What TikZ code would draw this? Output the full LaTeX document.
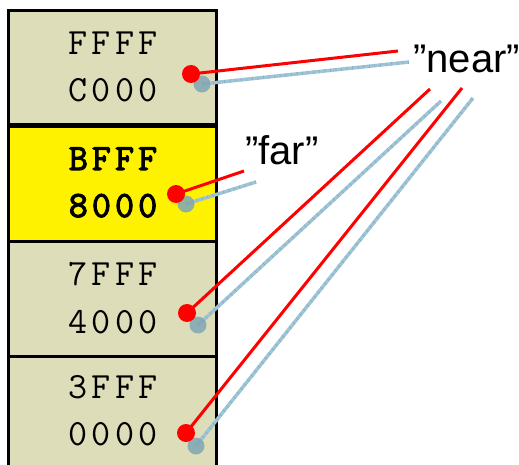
\documentclass[tikz,border=0pt]{standalone}
\usepackage{fontspec}
\newfontfamily\addrfont{Latin Modern Mono}[LetterSpace=11]
\newfontfamily\addrboldfont{Latin Modern Mono}[LetterSpace=11, FakeBold=3]
\newfontfamily\arialfont{Liberation Sans}
\definecolor{beige}{RGB}{221,221,185}
\definecolor{shdotcol}{RGB}{128,166,180}
\definecolor{shlinecol}{RGB}{158,196,214}
\definecolor{shtick}{RGB}{110,150,170}
\begin{document}
\begin{tikzpicture}[x=1pt,y=-1pt,
  membox/.style={draw=black, line width=3pt, fill=beige},
  curbox/.style={draw=black, line width=3pt, fill=yellow},
  addr/.style={font=\addrfont\fontsize{37}{37}\selectfont, anchor=base, inner sep=0pt},
  addrb/.style={font=\addrboldfont\fontsize{37}{37}\selectfont, anchor=base, inner sep=0pt},
  lbl/.style={font=\arialfont\fontsize{40}{40}\selectfont, anchor=base west, inner sep=0pt},
  reddot/.style={circle, fill=red, minimum size=18pt, inner sep=0pt},
  shdot/.style={circle, fill=shdotcol, fill opacity=0.85, minimum size=17pt, inner sep=0pt},
  redline/.style={red, line width=3pt},
  shline/.style={shlinecol, line width=3.5pt, postaction={draw=shtick, line width=3.5pt, dash pattern=on 0.6pt off 5pt, draw opacity=0.5}}
]
\useasboundingbox (0,0) rectangle (519,465);
\clip (0,0) rectangle (519,465);

% memory blocks
\draw[membox] (8.5,10.5) rectangle (216.5,124.5);
\draw[curbox] (8.5,126.5) rectangle (216.5,241);
\draw[membox] (8.5,241) rectangle (216.5,356);
\draw[membox] (8.5,356) rectangle (216.5,490);

\node[addr]  (t1) at (113,55)  {FFFF};
\node[addr]  (b1) at (113,102) {C000};
\node[addrb] (t2) at (113,170) {BFFF};
\node[addrb] (b2) at (113,217) {8000};
\node[addr]  (t3) at (113,285) {7FFF};
\node[addr]  (b3) at (113,333) {4000};
\node[addr]  (t4) at (113,398) {3FFF};
\node[addr]  (b4) at (113,445) {0000};

% labels
\node[lbl] (near) at (413,73) {”near”};
\node[lbl] (far)  at (245,165) {”far”};

% dot positions
\coordinate (r1) at (191,74);   \coordinate (s1) at (202,84);
\coordinate (r2) at (176,194);  \coordinate (s2) at (186,204);
\coordinate (r3) at (187,313);  \coordinate (s3) at (198,325);
\coordinate (r4) at (186,433);  \coordinate (s4) at (196,446);

% line ends near labels
\coordinate (rn1) at (398,51);  \coordinate (sn1) at (409,62);
\coordinate (rf)  at (244,171); \coordinate (sf)  at (256,182);
\coordinate (rn3) at (430,89);  \coordinate (sn3) at (441,101);
\coordinate (rn4) at (462,88);  \coordinate (sn4) at (473,98);

% shadow lines and dots
\draw[shline] (s1) -- (sn1);
\draw[shline] (s2) -- (sf);
\draw[shline] (s3) -- (sn3);
\draw[shline] (s4) -- (sn4);
\node[shdot] (sd1) at (s1) {};
\node[shdot] (sd2) at (s2) {};
\node[shdot] (sd3) at (s3) {};
\node[shdot] (sd4) at (s4) {};

% red pointers
\draw[redline] (r1) -- (rn1);
\draw[redline] (r2) -- (rf);
\draw[redline] (r3) -- (rn3);
\draw[redline] (r4) -- (rn4);
\node[reddot] (rd1) at (r1) {};
\node[reddot] (rd2) at (r2) {};
\node[reddot] (rd3) at (r3) {};
\node[reddot] (rd4) at (r4) {};
\end{tikzpicture}
\end{document}
